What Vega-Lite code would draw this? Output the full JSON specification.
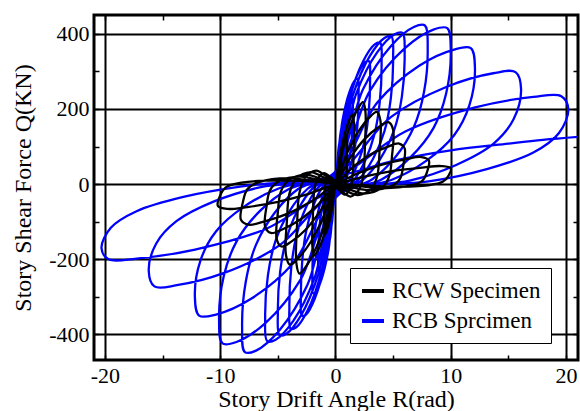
{
"$schema": "https://vega.github.io/schema/vega-lite/v6.json",
"width": 484, "height": 345,
"autosize": "none",
"padding": {"left": 94, "top": 15, "right": 2, "bottom": 51},
"background": "white",
"config": {"view": {"stroke": "black", "strokeWidth": 3}, "font": "Liberation Serif, Times New Roman, serif"},
"datasets": {
"rcb": [
{"x":0,"y":7},{"x":0.15,"y":54},{"x":0.3,"y":78},{"x":0.43,"y":89},{"x":0.49,"y":90},{"x":0.5,"y":77},{"x":0.48,"y":52},{"x":0.43,"y":32},{"x":0.33,"y":15},{"x":0.2,"y":3},
{"x":0,"y":-7},{"x":-0.15,"y":-54},{"x":-0.3,"y":-78},{"x":-0.43,"y":-89},{"x":-0.49,"y":-90},{"x":-0.5,"y":-77},{"x":-0.48,"y":-52},{"x":-0.43,"y":-32},{"x":-0.33,"y":-15},{"x":-0.2,"y":-3},
{"x":0,"y":14},{"x":0.3,"y":102},{"x":0.6,"y":148},{"x":0.85,"y":168},{"x":0.97,"y":170},{"x":1.0,"y":145},{"x":0.96,"y":99},{"x":0.85,"y":61},{"x":0.65,"y":29},{"x":0.4,"y":5},
{"x":0,"y":-14},{"x":-0.3,"y":-102},{"x":-0.6,"y":-148},{"x":-0.85,"y":-168},{"x":-0.97,"y":-170},{"x":-1.0,"y":-145},{"x":-0.96,"y":-99},{"x":-0.85,"y":-61},{"x":-0.65,"y":-29},{"x":-0.4,"y":-5},
{"x":0,"y":18},{"x":0.45,"y":138},{"x":0.9,"y":200},{"x":1.28,"y":228},{"x":1.46,"y":230},{"x":1.5,"y":196},{"x":1.44,"y":133},{"x":1.28,"y":83},{"x":0.98,"y":39},{"x":0.6,"y":7},
{"x":0,"y":-19},{"x":-0.45,"y":-141},{"x":-0.9,"y":-204},{"x":-1.28,"y":-233},{"x":-1.46,"y":-235},{"x":-1.5,"y":-200},{"x":-1.44,"y":-136},{"x":-1.28,"y":-85},{"x":-0.98,"y":-40},{"x":-0.6,"y":-7},
{"x":0,"y":22},{"x":0.6,"y":168},{"x":1.2,"y":244},{"x":1.7,"y":277},{"x":1.94,"y":280},{"x":2,"y":238},{"x":1.92,"y":162},{"x":1.7,"y":101},{"x":1.3,"y":48},{"x":0.8,"y":8},
{"x":0,"y":-23},{"x":-0.6,"y":-174},{"x":-1.2,"y":-252},{"x":-1.7,"y":-287},{"x":-1.94,"y":-290},{"x":-2,"y":-247},{"x":-1.92,"y":-168},{"x":-1.7,"y":-104},{"x":-1.3,"y":-49},{"x":-0.8,"y":-9},
{"x":0,"y":26},{"x":0.9,"y":196},{"x":1.8,"y":284},{"x":2.55,"y":324},{"x":2.91,"y":327},{"x":3,"y":278},{"x":2.88,"y":190},{"x":2.55,"y":118},{"x":1.95,"y":56},{"x":1.2,"y":10},
{"x":0,"y":-28},{"x":-0.9,"y":-210},{"x":-1.8,"y":-305},{"x":-2.55,"y":-347},{"x":-2.91,"y":-350},{"x":-3,"y":-298},{"x":-2.88,"y":-203},{"x":-2.55,"y":-126},{"x":-1.95,"y":-60},{"x":-1.2,"y":-11},
{"x":0,"y":30},{"x":1.2,"y":226},{"x":2.4,"y":327},{"x":3.4,"y":372},{"x":3.88,"y":376},{"x":4,"y":320},{"x":3.84,"y":218},{"x":3.4,"y":135},{"x":2.6,"y":64},{"x":1.6,"y":11},
{"x":0,"y":-31},{"x":-1.2,"y":-231},{"x":-2.4,"y":-335},{"x":-3.4,"y":-381},{"x":-3.88,"y":-385},{"x":-4,"y":-327},{"x":-3.84,"y":-223},{"x":-3.4,"y":-139},{"x":-2.6,"y":-65},{"x":-1.6,"y":-12},
{"x":0,"y":31},{"x":1.5,"y":236},{"x":3,"y":342},{"x":4.25,"y":389},{"x":4.85,"y":393},{"x":5,"y":334},{"x":4.8,"y":228},{"x":4.25,"y":141},{"x":3.25,"y":67},{"x":2,"y":12},
{"x":0,"y":-32},{"x":-1.5,"y":-241},{"x":-3,"y":-350},{"x":-4.25,"y":-398},{"x":-4.85,"y":-402},{"x":-5,"y":-342},{"x":-4.8,"y":-233},{"x":-4.25,"y":-145},{"x":-3.25,"y":-68},{"x":-2,"y":-12},
{"x":0,"y":32},{"x":1.8,"y":241},{"x":3.6,"y":350},{"x":5.1,"y":398},{"x":5.82,"y":402},{"x":6,"y":342},{"x":5.76,"y":233},{"x":5.1,"y":145},{"x":3.9,"y":68},{"x":2.4,"y":12},
{"x":0,"y":-33},{"x":-1.83,"y":-251},{"x":-3.66,"y":-364},{"x":-5.19,"y":-414},{"x":-5.92,"y":-418},{"x":-6.1,"y":-355},{"x":-5.86,"y":-242},{"x":-5.19,"y":-150},{"x":-3.97,"y":-71},{"x":-2.44,"y":-13},
{"x":0,"y":34},{"x":2.4,"y":253},{"x":4.8,"y":367},{"x":6.8,"y":418},{"x":7.76,"y":422},{"x":8,"y":359},{"x":7.68,"y":245},{"x":6.8,"y":152},{"x":5.2,"y":72},{"x":3.2,"y":13},
{"x":0,"y":-36},{"x":-2.43,"y":-268},{"x":-4.86,"y":-389},{"x":-6.89,"y":-443},{"x":-7.86,"y":-447},{"x":-8.1,"y":-380},{"x":-7.78,"y":-259},{"x":-6.89,"y":-161},{"x":-5.27,"y":-76},{"x":-3.24,"y":-13},
{"x":0,"y":33},{"x":3,"y":249},{"x":6,"y":361},{"x":8.5,"y":411},{"x":9.7,"y":415},{"x":10,"y":353},{"x":9.6,"y":241},{"x":8.5,"y":149},{"x":6.5,"y":71},{"x":4,"y":12},
{"x":0,"y":-34},{"x":-3.03,"y":-254},{"x":-6.06,"y":-369},{"x":-8.59,"y":-420},{"x":-9.8,"y":-424},{"x":-10.1,"y":-360},{"x":-9.7,"y":-246},{"x":-8.59,"y":-153},{"x":-6.57,"y":-72},{"x":-4.04,"y":-13},
{"x":0,"y":29},{"x":3.63,"y":217},{"x":7.26,"y":315},{"x":10.29,"y":358},{"x":11.74,"y":362},{"x":12.1,"y":308},{"x":11.62,"y":210},{"x":10.29,"y":130},{"x":7.87,"y":62},{"x":4.84,"y":11},
{"x":0,"y":-28},{"x":-3.66,"y":-210},{"x":-7.32,"y":-305},{"x":-10.37,"y":-347},{"x":-11.83,"y":-350},{"x":-12.2,"y":-298},{"x":-11.71,"y":-203},{"x":-10.37,"y":-126},{"x":-7.93,"y":-60},{"x":-4.88,"y":-11},
{"x":0,"y":24},{"x":4.83,"y":179},{"x":9.66,"y":259},{"x":13.69,"y":295},{"x":15.62,"y":298},{"x":16.1,"y":253},{"x":15.46,"y":173},{"x":13.69,"y":107},{"x":10.47,"y":51},{"x":6.44,"y":9},
{"x":0,"y":-22},{"x":-4.86,"y":-163},{"x":-9.72,"y":-237},{"x":-13.77,"y":-269},{"x":-15.71,"y":-272},{"x":-16.2,"y":-231},{"x":-15.55,"y":-158},{"x":-13.77,"y":-98},{"x":-10.53,"y":-46},{"x":-6.48,"y":-8},
{"x":0,"y":19},{"x":6.06,"y":140},{"x":12.12,"y":204},{"x":17.17,"y":232},{"x":19.59,"y":234},{"x":20.2,"y":199},{"x":19.39,"y":136},{"x":17.17,"y":84},{"x":13.13,"y":40},{"x":8.08,"y":7},
{"x":0,"y":-16},{"x":-6.09,"y":-120},{"x":-12.18,"y":-174},{"x":-17.26,"y":-198},{"x":-19.69,"y":-200},{"x":-20.3,"y":-170},{"x":-19.49,"y":-116},{"x":-17.26,"y":-72},{"x":-13.2,"y":-34},{"x":-8.12,"y":-6},
{"x":0,"y":20},{"x":5,"y":62},{"x":10,"y":90},{"x":15,"y":108},{"x":18,"y":118},{"x":21.5,"y":127}
],
"rcw": [
{"x":0,"y":4},{"x":0.13,"y":29},{"x":0.25,"y":50},{"x":0.38,"y":64},{"x":0.46,"y":70},{"x":0.5,"y":62},{"x":0.49,"y":32},{"x":0.47,"y":8},{"x":0.4,"y":-4},{"x":0.25,"y":-11},
{"x":0,"y":-4},{"x":-0.13,"y":-29},{"x":-0.25,"y":-50},{"x":-0.38,"y":-64},{"x":-0.46,"y":-70},{"x":-0.5,"y":-62},{"x":-0.49,"y":-32},{"x":-0.47,"y":-8},{"x":-0.4,"y":4},{"x":-0.25,"y":11},
{"x":0,"y":7},{"x":0.25,"y":55},{"x":0.5,"y":94},{"x":0.75,"y":120},{"x":0.92,"y":130},{"x":1,"y":114},{"x":0.98,"y":59},{"x":0.93,"y":16},{"x":0.8,"y":-8},{"x":0.5,"y":-20},
{"x":0,"y":-7},{"x":-0.25,"y":-57},{"x":-0.5,"y":-97},{"x":-0.75,"y":-124},{"x":-0.92,"y":-135},{"x":-1,"y":-119},{"x":-0.98,"y":-61},{"x":-0.93,"y":-16},{"x":-0.8,"y":8},{"x":-0.5,"y":20},
{"x":0,"y":9},{"x":0.4,"y":78},{"x":0.8,"y":133},{"x":1.2,"y":170},{"x":1.47,"y":185},{"x":1.6,"y":163},{"x":1.57,"y":83},{"x":1.49,"y":22},{"x":1.28,"y":-11},{"x":0.8,"y":-28},
{"x":0,"y":-10},{"x":-0.5,"y":-80},{"x":-1.0,"y":-137},{"x":-1.5,"y":-175},{"x":-1.84,"y":-190},{"x":-2.0,"y":-167},{"x":-1.96,"y":-86},{"x":-1.86,"y":-23},{"x":-1.6,"y":11},{"x":-1.0,"y":29},
{"x":0,"y":11},{"x":0.65,"y":92},{"x":1.3,"y":157},{"x":1.95,"y":201},{"x":2.39,"y":218},{"x":2.6,"y":192},{"x":2.55,"y":98},{"x":2.42,"y":26},{"x":2.08,"y":-13},{"x":1.3,"y":-33},
{"x":0,"y":-12},{"x":-0.85,"y":-100},{"x":-1.7,"y":-171},{"x":-2.55,"y":-219},{"x":-3.13,"y":-238},{"x":-3.4,"y":-209},{"x":-3.33,"y":-107},{"x":-3.16,"y":-29},{"x":-2.72,"y":14},{"x":-1.7,"y":36},
{"x":0,"y":10},{"x":0.98,"y":81},{"x":1.95,"y":138},{"x":2.93,"y":177},{"x":3.59,"y":192},{"x":3.9,"y":169},{"x":3.82,"y":86},{"x":3.63,"y":23},{"x":3.12,"y":-12},{"x":1.95,"y":-29},
{"x":0,"y":-11},{"x":-1.08,"y":-90},{"x":-2.15,"y":-154},{"x":-3.23,"y":-197},{"x":-3.96,"y":-214},{"x":-4.3,"y":-188},{"x":-4.21,"y":-96},{"x":-4.0,"y":-26},{"x":-3.44,"y":13},{"x":-2.15,"y":32},
{"x":0,"y":8},{"x":1.25,"y":69},{"x":2.5,"y":119},{"x":3.75,"y":152},{"x":4.6,"y":165},{"x":5,"y":145},{"x":4.9,"y":74},{"x":4.65,"y":20},{"x":4,"y":-10},{"x":2.5,"y":-25},
{"x":0,"y":-8},{"x":-1.28,"y":-70},{"x":-2.55,"y":-120},{"x":-3.83,"y":-153},{"x":-4.69,"y":-166},{"x":-5.1,"y":-146},{"x":-5.0,"y":-75},{"x":-4.74,"y":-20},{"x":-4.08,"y":10},{"x":-2.55,"y":25},
{"x":0,"y":5},{"x":1.5,"y":45},{"x":3,"y":78},{"x":4.5,"y":99},{"x":5.52,"y":108},{"x":6,"y":95},{"x":5.88,"y":49},{"x":5.58,"y":13},{"x":4.8,"y":-6},{"x":3,"y":-16},
{"x":0,"y":-7},{"x":-1.53,"y":-55},{"x":-3.05,"y":-94},{"x":-4.58,"y":-120},{"x":-5.61,"y":-130},{"x":-6.1,"y":-114},{"x":-5.98,"y":-59},{"x":-5.67,"y":-16},{"x":-4.88,"y":8},{"x":-3.05,"y":20},
{"x":0,"y":4},{"x":2.03,"y":30},{"x":4.05,"y":52},{"x":6.08,"y":66},{"x":7.45,"y":72},{"x":8.1,"y":63},{"x":7.94,"y":32},{"x":7.53,"y":9},{"x":6.48,"y":-4},{"x":4.05,"y":-11},
{"x":0,"y":-5},{"x":-2.05,"y":-45},{"x":-4.1,"y":-78},{"x":-6.15,"y":-99},{"x":-7.54,"y":-108},{"x":-8.2,"y":-95},{"x":-8.04,"y":-49},{"x":-7.63,"y":-13},{"x":-6.56,"y":6},{"x":-4.1,"y":16},
{"x":0,"y":2},{"x":2.5,"y":20},{"x":5,"y":35},{"x":7.5,"y":44},{"x":9.2,"y":48},{"x":10,"y":42},{"x":9.8,"y":22},{"x":9.3,"y":6},{"x":8,"y":-3},{"x":5,"y":-7},
{"x":0,"y":-3},{"x":-2.55,"y":-28},{"x":-5.1,"y":-48},{"x":-7.65,"y":-61},{"x":-9.38,"y":-66},{"x":-10.2,"y":-58},{"x":-10.0,"y":-30},{"x":-9.49,"y":-8},{"x":-8.16,"y":4},{"x":-5.1,"y":10},
{"x":0,"y":4}
]
},
"layer": [
{
"data": {"name": "rcb"},
"mark": {"type": "line", "strokeWidth": 2.3, "clip": true, "interpolate": "catmull-rom"},
"encoding": {
"x": {"field": "x", "type": "quantitative", "scale": {"domain": [-20.95, 21.04], "nice": false, "zero": false},
"axis": {"orient": "bottom", "values": [-20, -10, 0, 10, 20], "grid": true, "gridColor": "black", "gridWidth": 2, "gridOpacity": 1, "ticks": false, "domain": false, "labelExpr": "'' + datum.value", "labelFont": "Liberation Serif, Times New Roman, serif", "labelFontSize": 22, "labelColor": "black", "labelPadding": 5, "title": "Story Drift Angle R(rad)", "titleFont": "Liberation Serif, Times New Roman, serif", "titleFontSize": 24, "titleFontWeight": "normal", "titleColor": "black", "titlePadding": 1}},
"y": {"field": "y", "type": "quantitative", "scale": {"domain": [-468, 450], "nice": false, "zero": false},
"axis": {"orient": "left", "values": [-400, -200, 0, 200, 400], "grid": true, "gridColor": "black", "gridWidth": 2, "gridOpacity": 1, "ticks": false, "domain": false, "labelExpr": "'' + datum.value", "labelFont": "Liberation Serif, Times New Roman, serif", "labelFontSize": 22, "labelColor": "black", "labelPadding": 5, "title": "Story Shear Force Q(KN)", "titleFont": "Liberation Serif, Times New Roman, serif", "titleFontSize": 24, "titleFontWeight": "normal", "titleColor": "black", "titlePadding": 13}},
"color": {"datum": "RCB Sprcimen", "type": "nominal", "scale": {"domain": ["RCW Specimen", "RCB Sprcimen"], "range": ["black", "#0000ff"]},
"legend": {"orient": "none", "legendX": 256, "legendY": 253, "title": null, "labelFont": "Liberation Serif, Times New Roman, serif", "labelFontSize": 23, "labelColor": "black", "symbolType": "stroke", "symbolStrokeWidth": 4, "symbolSize": 484, "strokeColor": "black", "fillColor": "white", "padding": 10, "rowPadding": 5, "labelOffset": 6}},
"order": {"value": null}
}
},
{
"data": {"name": "rcw"},
"mark": {"type": "line", "strokeWidth": 2.3, "clip": true, "interpolate": "catmull-rom"},
"encoding": {
"x": {"field": "x", "type": "quantitative",
"axis": {"orient": "top", "values": [-20, -15, -10, -5, 0, 5, 10, 15, 20], "offset": -5, "ticks": true, "tickSize": 5, "tickWidth": 1.5, "tickColor": "black", "labels": false, "grid": false, "domain": false, "title": null}},
"y": {"field": "y", "type": "quantitative",
"axis": {"orient": "right", "values": [-400, -300, -200, -100, 0, 100, 200, 300, 400], "offset": -5, "ticks": true, "tickSize": 5, "tickWidth": 1.5, "tickColor": "black", "labels": false, "grid": false, "domain": false, "title": null}},
"color": {"datum": "RCW Specimen", "type": "nominal"},
"order": {"value": null}
}
},
{
"data": {"values": [{"x": 0, "y": 0}]},
"mark": {"type": "point", "opacity": 0},
"encoding": {
"x": {"field": "x", "type": "quantitative",
"axis": {"orient": "bottom", "values": [-20, -15, -10, -5, 0, 5, 10, 15, 20], "offset": -5, "ticks": true, "tickSize": 5, "tickWidth": 1.5, "tickColor": "black", "labels": false, "grid": false, "domain": false, "title": null}},
"y": {"field": "y", "type": "quantitative",
"axis": {"orient": "left", "values": [-400, -300, -200, -100, 0, 100, 200, 300, 400], "offset": -5, "ticks": true, "tickSize": 5, "tickWidth": 1.5, "tickColor": "black", "labels": false, "grid": false, "domain": false, "title": null}}
}
}
],
"resolve": {"axis": {"x": "independent", "y": "independent"}}
}
